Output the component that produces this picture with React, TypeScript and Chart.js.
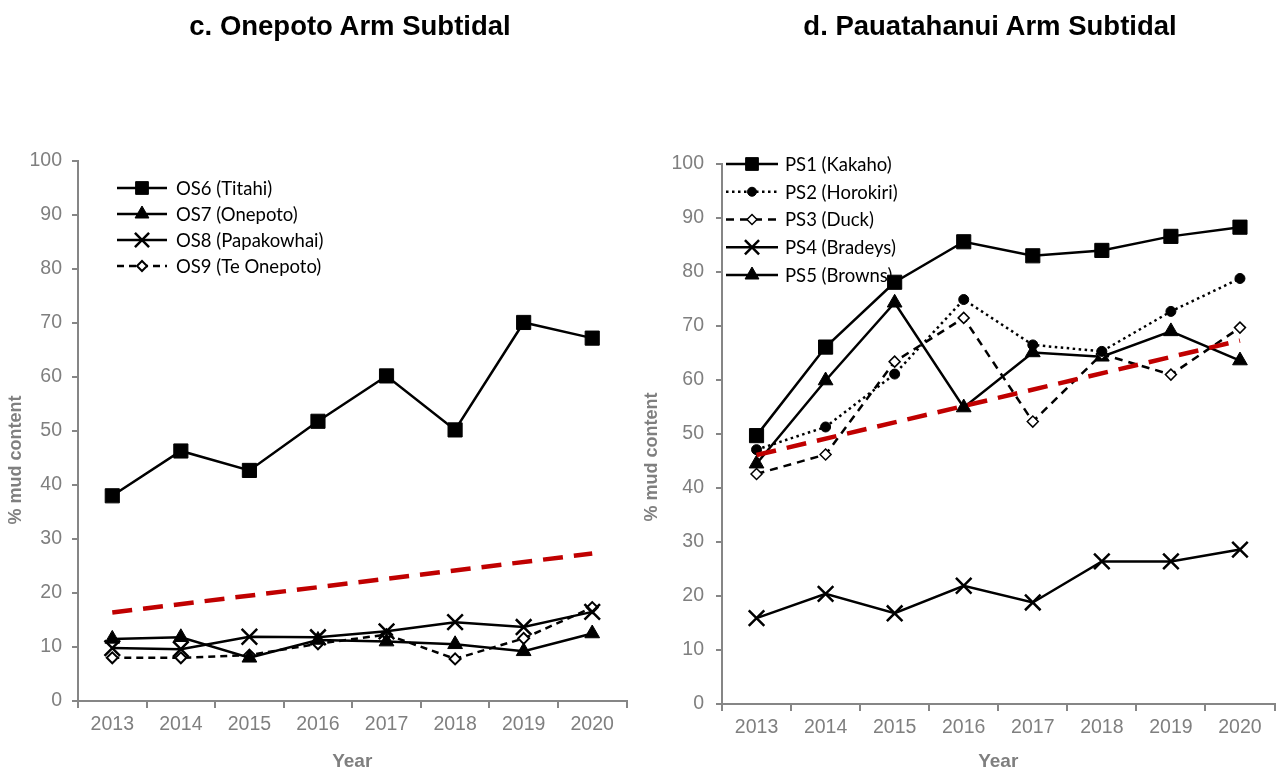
import React, { useEffect, useRef } from 'react';
import { Chart, registerables } from 'chart.js';

Chart.register(...registerables);

// ---------- data ----------
const years = ['2013', '2014', '2015', '2016', '2017', '2018', '2019', '2020'];

const os6Titahi = [38.0, 46.3, 42.7, 51.8, 60.2, 50.2, 70.1, 67.2];
const os7Onepoto = [11.5, 11.8, 8.0, 11.3, 11.0, 10.5, 9.2, 12.5];
const os8Papakowhai = [9.8, 9.6, 11.9, 11.8, 12.9, 14.6, 13.7, 16.5];
const os9TeOnepoto = [8.0, 8.0, 8.5, 10.6, 12.3, 7.8, 11.6, 17.3];
const onepotoTrendEnds = [16.4, 27.3]; // 2013, 2020

const ps1Kakaho = [49.7, 66.1, 78.1, 85.6, 83.0, 84.0, 86.6, 88.3];
const ps2Horokiri = [47.1, 51.3, 61.1, 74.9, 66.5, 65.3, 72.7, 78.8];
const ps3Duck = [42.6, 46.2, 63.4, 71.5, 52.3, 64.8, 61.0, 69.7];
const ps4Bradeys = [15.9, 20.4, 16.8, 21.9, 18.8, 26.4, 26.4, 28.6];
const ps5Browns = [44.5, 59.9, 74.3, 54.9, 65.1, 64.3, 69.0, 63.6];
const pauatahanuiTrendEnds = [46.1, 67.3]; // 2013, 2020

// ---------- styles ----------
const FONT = '"Liberation Sans", Arial, sans-serif';
const LEGEND_FONT = 'Lato, "Open Sans", sans-serif';
const AXIS_GRAY = '#868686';
const TEXT_GRAY = '#7f7f7f';
const TREND_RED = '#c00000';

type Marker = 'rect' | 'triangle' | 'crossRot' | 'rectRot' | 'circle';

interface SeriesSpec {
  label: string;
  data: number[];
  marker: Marker;
  radius: number;
  legendRadius: number;
  fill: string;
  pbw: number;
  dash: number[];
}

function drawMarker(ctx: CanvasRenderingContext2D, style: Marker, x: number, y: number, r: number, fill: string, lw: number) {
  ctx.save();
  ctx.setLineDash([]);
  ctx.beginPath();
  ctx.fillStyle = fill;
  ctx.strokeStyle = '#000';
  ctx.lineWidth = lw;
  if (style === 'rect') {
    const s = r * Math.SQRT1_2;
    ctx.rect(x - s, y - s, 2 * s, 2 * s);
  } else if (style === 'triangle') {
    for (let k = 0; k < 3; k++) {
      const a = (k * 2 * Math.PI) / 3;
      const px = x + Math.sin(a) * r;
      const py = y - Math.cos(a) * r;
      if (k === 0) ctx.moveTo(px, py);
      else ctx.lineTo(px, py);
    }
    ctx.closePath();
  } else if (style === 'rectRot') {
    ctx.moveTo(x - r, y);
    ctx.lineTo(x, y - r);
    ctx.lineTo(x + r, y);
    ctx.lineTo(x, y + r);
    ctx.closePath();
  } else if (style === 'circle') {
    ctx.arc(x, y, r, 0, Math.PI * 2);
  } else if (style === 'crossRot') {
    const d = r * Math.SQRT1_2;
    ctx.moveTo(x - d, y - d);
    ctx.lineTo(x + d, y + d);
    ctx.moveTo(x + d, y - d);
    ctx.lineTo(x - d, y + d);
    ctx.stroke();
    ctx.restore();
    return;
  }
  ctx.fill();
  if (lw > 0) ctx.stroke();
  ctx.restore();
}

const annotPlugin = {
  id: 'annot',
  afterDraw(chart: any, _args: any, opts: any) {
    const ctx: CanvasRenderingContext2D = chart.ctx;
    // rotated y-axis title
    ctx.save();
    ctx.translate(opts.yTitleX, opts.yTitleY);
    ctx.rotate(-Math.PI / 2);
    ctx.font = `bold 18px ${FONT}`;
    ctx.fillStyle = TEXT_GRAY;
    ctx.textAlign = 'center';
    ctx.textBaseline = 'middle';
    ctx.fillText(opts.yTitle, 0, 0);
    ctx.restore();
    // legend inside plot
    const items = chart.data.datasets.filter((d: any) => !d.isTrend);
    items.forEach((d: any, i: number) => {
      const y = opts.legendY + i * opts.legendRow;
      ctx.save();
      ctx.strokeStyle = '#000';
      ctx.lineWidth = d.borderWidth;
      ctx.setLineDash(d.borderDash || []);
      ctx.beginPath();
      ctx.moveTo(opts.legendX0, y);
      ctx.lineTo(opts.legendX1, y);
      ctx.stroke();
      ctx.restore();
      drawMarker(ctx, d.pointStyle, (opts.legendX0 + opts.legendX1) / 2, y, d.legendRadius, d.pointBackgroundColor, d.pointBorderWidth);
      ctx.save();
      ctx.font = `18.5px ${LEGEND_FONT}`;
      ctx.fillStyle = '#000';
      ctx.textAlign = 'left';
      ctx.textBaseline = 'middle';
      ctx.fillText(d.label, opts.legendTextX, y + 1);
      ctx.restore();
    });
  },
};

interface Geo {
  padTop: number;
  padRight: number;
  yWidth: number;
  xHeight: number;
  yTickPad: number;
  yTitle: string;
  yTitleX: number;
  yTitleY: number;
  legendX0: number;
  legendX1: number;
  legendTextX: number;
  legendY: number;
  legendRow: number;
  xTitlePadBottom: number;
}

function buildConfig(series: SeriesSpec[], trendEnds: number[], geo: Geo): any {
  const trendData = years.map((_, i) => (i === 0 ? trendEnds[0] : i === years.length - 1 ? trendEnds[1] : null));
  const datasets: any[] = [
    {
      label: 'trend',
      isTrend: true,
      data: trendData,
      spanGaps: true,
      borderColor: TREND_RED,
      borderWidth: 4.5,
      borderDash: [20, 11],
      pointRadius: 0,
      order: 0,
    },
    ...series.map((s) => ({
      label: s.label,
      data: s.data,
      borderColor: '#000',
      borderWidth: 2.5,
      borderDash: s.dash,
      pointStyle: s.marker,
      pointRadius: s.radius,
      legendRadius: s.legendRadius,
      pointBackgroundColor: s.fill,
      pointBorderColor: '#000',
      pointBorderWidth: s.pbw,
      tension: 0,
      order: 1,
    })),
  ];
  return {
    type: 'line',
    data: { labels: years, datasets },
    plugins: [annotPlugin],
    options: {
      responsive: false,
      animation: false,
      devicePixelRatio: 1,
      events: [],
      layout: { padding: { top: geo.padTop, right: geo.padRight, left: 0, bottom: 0 } },
      plugins: {
        legend: { display: false },
        tooltip: { enabled: false },
        title: { display: false },
        annot: {
          yTitle: geo.yTitle,
          yTitleX: geo.yTitleX,
          yTitleY: geo.yTitleY,
          legendX0: geo.legendX0,
          legendX1: geo.legendX1,
          legendTextX: geo.legendTextX,
          legendY: geo.legendY,
          legendRow: geo.legendRow,
        },
      },
      scales: {
        x: {
          type: 'category',
          offset: true,
          grid: { offset: true, drawOnChartArea: false, drawTicks: true, tickLength: 7, color: AXIS_GRAY, lineWidth: 2 },
          border: { display: true, color: AXIS_GRAY, width: 2 },
          ticks: { color: TEXT_GRAY, font: { family: FONT, size: 19.5 }, padding: 5, maxRotation: 0, autoSkip: false },
          title: {
            display: true,
            text: 'Year',
            color: TEXT_GRAY,
            font: { family: FONT, size: 19, weight: 'bold' },
            padding: { top: 0, bottom: geo.xTitlePadBottom },
          },
          afterFit: (s: any) => {
            s.height = geo.xHeight;
          },
        },
        y: {
          min: 0,
          max: 100,
          grid: { drawOnChartArea: false, drawTicks: true, tickLength: 6, color: AXIS_GRAY, lineWidth: 2 },
          border: { display: true, color: AXIS_GRAY, width: 2 },
          ticks: { stepSize: 10, color: TEXT_GRAY, font: { family: FONT, size: 19.5 }, padding: geo.yTickPad },
          afterFit: (s: any) => {
            s.width = geo.yWidth;
          },
        },
      },
    },
  };
}

const onepotoSeries: SeriesSpec[] = [
  { label: 'OS6 (Titahi)', data: os6Titahi, marker: 'rect', radius: 10, legendRadius: 9, fill: '#000', pbw: 1, dash: [] },
  { label: 'OS7 (Onepoto)', data: os7Onepoto, marker: 'triangle', radius: 8.5, legendRadius: 8, fill: '#000', pbw: 1, dash: [] },
  { label: 'OS8 (Papakowhai)', data: os8Papakowhai, marker: 'crossRot', radius: 11, legendRadius: 10, fill: '#000', pbw: 2.5, dash: [] },
  { label: 'OS9 (Te Onepoto)', data: os9TeOnepoto, marker: 'rectRot', radius: 5.5, legendRadius: 5, fill: '#fff', pbw: 2, dash: [7, 5] },
];

const pauatahanuiSeries: SeriesSpec[] = [
  { label: 'PS1 (Kakaho)', data: ps1Kakaho, marker: 'rect', radius: 10, legendRadius: 9, fill: '#000', pbw: 1, dash: [] },
  { label: 'PS2 (Horokiri)', data: ps2Horokiri, marker: 'circle', radius: 5, legendRadius: 4.5, fill: '#000', pbw: 1, dash: [2.5, 3.5] },
  { label: 'PS3 (Duck)', data: ps3Duck, marker: 'rectRot', radius: 5.5, legendRadius: 5, fill: '#fff', pbw: 1.5, dash: [8, 6] },
  { label: 'PS4 (Bradeys)', data: ps4Bradeys, marker: 'crossRot', radius: 11, legendRadius: 10, fill: '#000', pbw: 2.5, dash: [] },
  { label: 'PS5 (Browns)', data: ps5Browns, marker: 'triangle', radius: 8.5, legendRadius: 8, fill: '#000', pbw: 1, dash: [] },
];

const leftGeo: Geo = {
  padTop: 161,
  padRight: 12,
  yWidth: 78,
  xHeight: 72,
  yTickPad: 10,
  yTitle: '% mud content',
  yTitleX: 16,
  yTitleY: 460,
  legendX0: 117,
  legendX1: 167,
  legendTextX: 176,
  legendY: 188,
  legendRow: 26,
  xTitlePadBottom: 0,
};

const rightGeo: Geo = {
  padTop: 164,
  padRight: 2,
  yWidth: 82,
  xHeight: 69,
  yTickPad: 12,
  yTitle: '% mud content',
  yTitleX: 12.5,
  yTitleY: 457,
  legendX0: 86,
  legendX1: 138,
  legendTextX: 145,
  legendY: 164,
  legendRow: 27.75,
  xTitlePadBottom: 0,
};

function ChartCanvas({ series, trend, geo, left, width }: { series: SeriesSpec[]; trend: number[]; geo: Geo; left: number; width: number }) {
  const ref = useRef<HTMLCanvasElement>(null);
  useEffect(() => {
    if (!ref.current) return;
    const chart = new Chart(ref.current, buildConfig(series, trend, geo));
    return () => chart.destroy();
  }, []);
  return <canvas ref={ref} width={width} height={773} style={{ position: 'absolute', left, top: 0, width, height: 773 }} />;
}

const titleStyle: React.CSSProperties = {
  position: 'absolute',
  top: 10,
  lineHeight: '32px',
  textAlign: 'center',
  font: `bold 27.5px ${FONT}`,
  color: '#000',
  whiteSpace: 'nowrap',
};

export default function App() {
  return (
    <div style={{ position: 'absolute', left: 0, top: 0, width: 1288, height: 773, background: '#fff', overflow: 'hidden' }}>
      <ChartCanvas series={onepotoSeries} trend={onepotoTrendEnds} geo={leftGeo} left={0} width={640} />
      <ChartCanvas series={pauatahanuiSeries} trend={pauatahanuiTrendEnds} geo={rightGeo} left={640} width={648} />
      <div style={{ ...titleStyle, left: 0, width: 700 }}>c. Onepoto Arm Subtidal</div>
      <div style={{ ...titleStyle, left: 690, width: 600 }}>d. Pauatahanui Arm Subtidal</div>
    </div>
  );
}
